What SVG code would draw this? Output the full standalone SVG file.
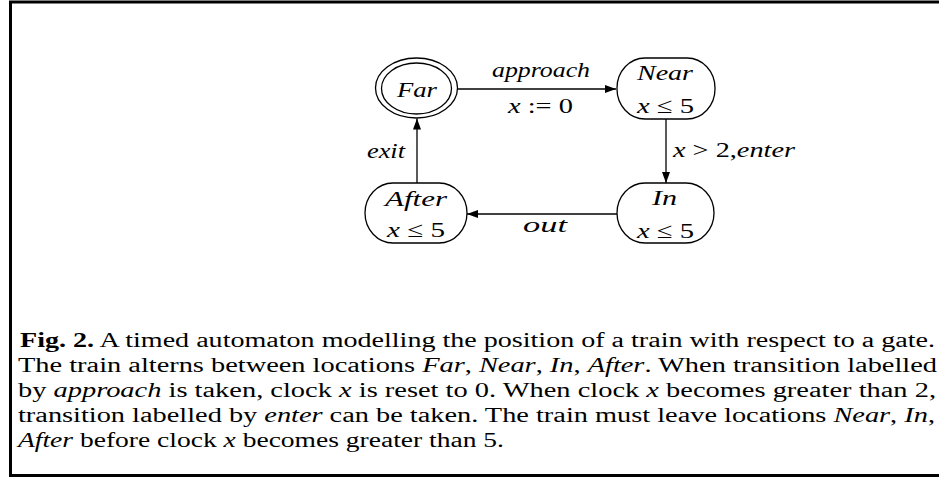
<svg xmlns="http://www.w3.org/2000/svg" width="939" height="478" viewBox="0 0 939 478">
<style>
.node{fill:none;stroke:#000;stroke-width:1.3}
.edge{fill:none;stroke:#000;stroke-width:1.3}
.lbl{font-family:"Liberation Serif","Times New Roman",serif;font-size:22px;font-style:italic;fill:#000}
.num{font-style:normal}
.cap{font-family:"Liberation Serif","Times New Roman",serif;font-size:20px;fill:#000}
.it{font-style:italic}
.bf{font-weight:bold}
</style>
<defs>
<marker id="arr" markerWidth="11" markerHeight="8" refX="11" refY="4" orient="auto" markerUnits="userSpaceOnUse">
<path d="M0,0 L11,4 L0,8 z" fill="#000"/>
</marker>
</defs>
<rect x="10.5" y="2" width="940" height="473.5" fill="none" stroke="#000" stroke-width="3"/>
<g id="far">
<ellipse class="node" cx="416.5" cy="88" rx="41" ry="30"/>
<ellipse class="node" cx="416.5" cy="88.5" rx="35" ry="25.5"/>
<text class="lbl" x="397" y="97" textLength="40" lengthAdjust="spacingAndGlyphs">Far</text>
</g>
<g id="near">
<rect class="node" x="617" y="58" width="98" height="61" rx="28" ry="30"/>
<text class="lbl" x="637" y="80" textLength="56" lengthAdjust="spacingAndGlyphs">Near</text>
<text class="lbl" x="637" y="113" textLength="57" lengthAdjust="spacingAndGlyphs">x <tspan class="num">≤ 5</tspan></text>
</g>
<g id="in">
<rect class="node" x="617" y="183" width="97" height="60" rx="28" ry="30"/>
<text class="lbl" x="652" y="205" textLength="25" lengthAdjust="spacingAndGlyphs">In</text>
<text class="lbl" x="637" y="238" textLength="57" lengthAdjust="spacingAndGlyphs">x <tspan class="num">≤ 5</tspan></text>
</g>
<g id="after">
<rect class="node" x="365" y="183" width="102" height="60" rx="28" ry="30"/>
<text class="lbl" x="385" y="206" textLength="62" lengthAdjust="spacingAndGlyphs">After</text>
<text class="lbl" x="387" y="237" textLength="58" lengthAdjust="spacingAndGlyphs">x <tspan class="num">≤ 5</tspan></text>
</g>
<g id="connectors">
<path class="edge" d="M457.5,89 L616,89" marker-end="url(#arr)"/>
<path class="edge" d="M666,119 L666,183" marker-end="url(#arr)"/>
<path class="edge" d="M617,214 L467,214" marker-end="url(#arr)"/>
<path class="edge" d="M417,183 L417,118.5" marker-end="url(#arr)"/>
<text class="lbl" x="492" y="77" textLength="98" lengthAdjust="spacingAndGlyphs">approach</text>
<text class="lbl" x="508" y="113" textLength="65" lengthAdjust="spacingAndGlyphs">x <tspan class="num">:= 0</tspan></text>
<text class="lbl" x="673" y="157" textLength="122" lengthAdjust="spacingAndGlyphs">x <tspan class="num">&gt; 2,</tspan>enter</text>
<text class="lbl" x="523" y="232" textLength="44" lengthAdjust="spacingAndGlyphs">out</text>
<text class="lbl" x="367" y="158" textLength="38" lengthAdjust="spacingAndGlyphs">exit</text>
</g>
<g id="caption">
<text class="cap" x="20" y="347" textLength="915" lengthAdjust="spacingAndGlyphs"><tspan class="bf">Fig. 2.</tspan> A timed automaton modelling the position of a train with respect to a gate.</text>
<text class="cap" x="18" y="372" textLength="919" lengthAdjust="spacingAndGlyphs">The train alterns between locations <tspan class="it">Far</tspan>, <tspan class="it">Near</tspan>, <tspan class="it">In</tspan>, <tspan class="it">After</tspan>. When transition labelled</text>
<text class="cap" x="18" y="397" textLength="918" lengthAdjust="spacingAndGlyphs">by <tspan class="it">approach</tspan> is taken, clock <tspan class="it">x</tspan> is reset to 0. When clock <tspan class="it">x</tspan> becomes greater than 2,</text>
<text class="cap" x="18" y="422" textLength="917" lengthAdjust="spacingAndGlyphs">transition labelled by <tspan class="it">enter</tspan> can be taken. The train must leave locations <tspan class="it">Near</tspan>, <tspan class="it">In</tspan>,</text>
<text class="cap" x="18" y="447" textLength="486" lengthAdjust="spacingAndGlyphs"><tspan class="it">After</tspan> before clock <tspan class="it">x</tspan> becomes greater than 5.</text>
</g>
</svg>
